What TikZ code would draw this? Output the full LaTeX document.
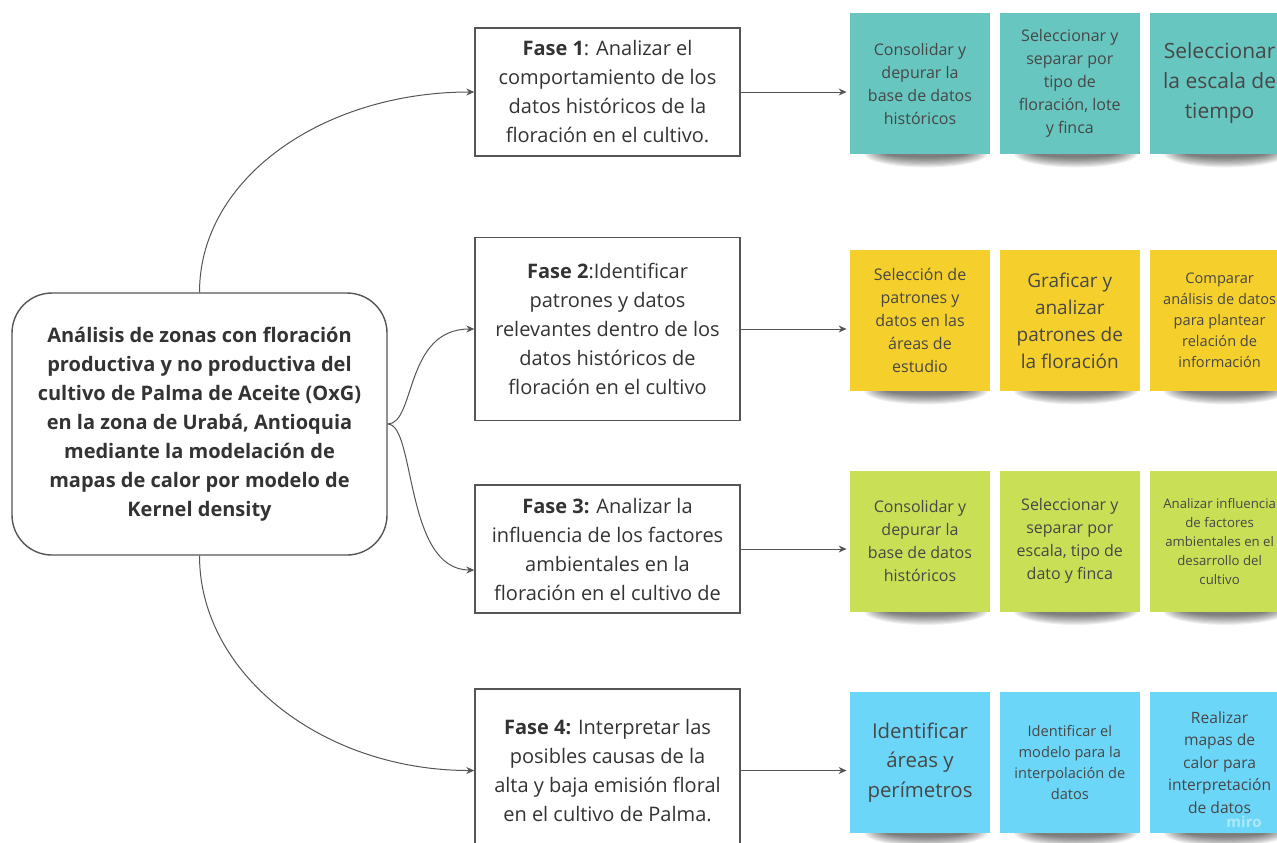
\documentclass[tikz,border=0pt]{standalone}
\usepackage{fontspec}
\setmainfont{Open Sans}
\usepackage{xcolor}
\usetikzlibrary{positioning,arrows.meta,backgrounds}
\definecolor{ink}{HTML}{333333}
\definecolor{wire}{HTML}{555555}
\definecolor{noteteal}{HTML}{67C6C0}
\definecolor{noteyell}{HTML}{F5D02C}
\definecolor{notelime}{HTML}{C9DF56}
\definecolor{noteblue}{HTML}{6CD6F8}
\newcommand{\fsz}[2]{\fontsize{#1}{#2}\selectfont}

\begin{document}
\begin{tikzpicture}[
  x=0.5pt,y=-0.5pt,
  hub/.style={draw=wire,line width=0.7pt,rounded corners=20pt,minimum width=187.5pt,
              minimum height=131pt,align=center,text=ink,font=\bfseries\fsz{10}{14.5}},
  fase/.style={draw=wire,line width=0.7pt,minimum width=132.5pt,align=center,
               text=ink,fill=white,font=\fsz{10}{14.5}},
  note/.style={minimum width=70pt,minimum height=70.5pt,inner sep=2pt,align=center,
               text=ink!90},
  link/.style={-{Stealth[length=4pt,width=3.5pt]},wire,line width=0.5pt},
]
\useasboundingbox (0,0) rectangle (1277,842);
\begin{scope}[on background layer]
  \fill[white] (0,0) rectangle (1277,842);
\end{scope}
\clip (0,0) rectangle (1277,842);

% central topic
\node[hub] (hub) at (199.5,424) {An\'alisis de zonas con floraci\'on\\productiva y no productiva del\\
  cultivo de Palma de Aceite (OxG)\\en la zona de Urab\'a, Antioquia\\mediante la modelaci\'on de\\
  mapas de calor por modelo de\\Kernel density};

% phases
\node[fase,minimum height=64pt] (f1) at (607.5,92)
  {\textbf{Fase 1}: Analizar el\\comportamiento de los\\datos hist\'oricos de la\\floraci\'on en el cultivo.};
\node[fase,minimum height=91.5pt] (f2) at (607.5,329)
  {\textbf{Fase 2}:Identificar\\patrones y datos\\relevantes dentro de los\\datos hist\'oricos de\\floraci\'on en el cultivo};
\node[fase,minimum height=64pt] (f3) at (607.5,549)
  {\textbf{Fase 3:} Analizar la\\influencia de los factores\\ambientales en la\\floraci\'on en el cultivo de};
\node[fase,minimum height=81.5pt] (f4) at (607.5,770.5)
  {\textbf{Fase 4:} Interpretar las\\posibles causas de la\\alta y baja emisi\'on floral\\en el cultivo de Palma.};

% branches out of the central topic
\draw[link] (hub.north) .. controls +(0,-115) and +(-150,0) .. (f1.west);
\draw[link] (hub.east) .. controls +(28,0) and +(-70,0) .. (f2.west);
\draw[link] (hub.east) .. controls +(28,0) and +(-70,0) .. ([yshift=-10.5pt]f3.west);
\draw[link] (hub.south) .. controls +(0,118) and +(-152,0) .. (f4.west);

% sticky notes, one row per phase
\node[note,fill=noteteal,font=\fsz{8}{11.5}] (a1) at (920,83.5)
  {Consolidar y\\depurar la\\base de datos\\hist\'oricos};
\node[note,fill=noteteal,font=\fsz{8}{11.5},right=4.5pt of a1] (a2)
  {Seleccionar y\\separar por\\tipo de\\floraci\'on, lote\\y finca};
\node[note,fill=noteteal,font=\fsz{10.5}{15},right=4.5pt of a2] (a3)
  {Seleccionar\\la escala de\\tiempo};

\node[note,fill=noteyell,font=\fsz{8}{11.5}] (b1) at (920,320.5)
  {Selecci\'on de\\patrones y\\datos en las\\\'areas de\\estudio};
\node[note,fill=noteyell,font=\fsz{9.5}{13.5},right=4.5pt of b1] (b2)
  {Graficar y\\analizar\\patrones de\\la floraci\'on};
\node[note,fill=noteyell,font=\fsz{7.3}{10.5},right=4.5pt of b2] (b3)
  {Comparar\\an\'alisis de datos\\para plantear\\relaci\'on de\\informaci\'on};

\node[note,fill=notelime,font=\fsz{8}{11.5}] (c1) at (920,541)
  {Consolidar y\\depurar la\\base de datos\\hist\'oricos};
\node[note,fill=notelime,font=\fsz{8}{11.5},right=4.5pt of c1] (c2)
  {Seleccionar y\\separar por\\escala, tipo de\\dato y finca};
\node[note,fill=notelime,font=\fsz{6.6}{9.5},right=4.5pt of c2] (c3)
  {Analizar influencia\\de factores\\ambientales en el\\desarrollo del\\cultivo};

\node[note,fill=noteblue,font=\fsz{10.2}{14.7}] (d1) at (920,762.5)
  {Identificar\\\'areas y\\per\'imetros};
\node[note,fill=noteblue,font=\fsz{7.3}{10.5},right=4.5pt of d1] (d2)
  {Identificar el\\modelo para la\\interpolaci\'on de\\datos};
\node[note,fill=noteblue,font=\fsz{7.8}{11.2},right=4.5pt of d2] (d3)
  {Realizar\\mapas de\\calor para\\interpretaci\'on\\de datos};
\node[text=white,text opacity=0.45,font=\bfseries\fsz{7.5}{7.5}] (logo) at (1244,822) {miro};

% soft shadow under each note
\begin{scope}[on background layer]
  \foreach \n in {a1,a2,a3,b1,b2,b3,c1,c2,c3,d1,d2,d3}
    \foreach \k in {0,...,9}
      \fill[black,opacity=0.065] ([xshift=3pt,yshift=0.5pt]\n.south)
        ellipse [x radius={(31-1.2*\k)*1pt}, y radius={(7-0.55*\k)*1pt}];
\end{scope}

% phase -> notes
\draw[link,shorten >=1.5pt] (f1.east) -- (f1.east -| a1.west);
\draw[link,shorten >=1.5pt] (f2.east) -- (f2.east -| b1.west);
\draw[link,shorten >=1.5pt] (f3.east) -- (f3.east -| c1.west);
\draw[link,shorten >=1.5pt] (f4.east) -- (f4.east -| d1.west);
\end{tikzpicture}
\end{document}
